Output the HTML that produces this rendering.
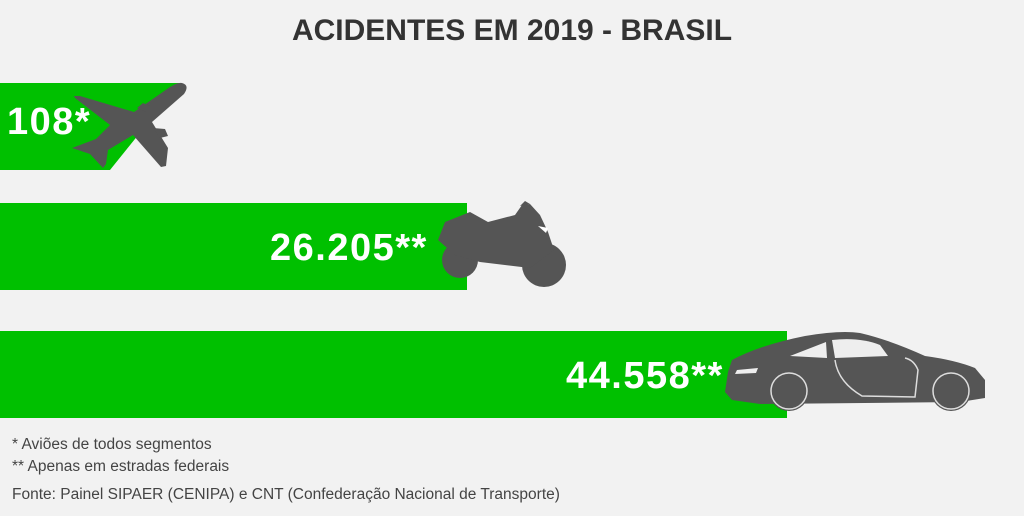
<!DOCTYPE html>
<html><head><meta charset="utf-8"><style>
body{margin:0;background:#f2f2f2;}
svg{display:block}
</style></head><body>
<svg width="1024" height="516" viewBox="0 0 1024 516" xmlns="http://www.w3.org/2000/svg">
<rect width="1024" height="516" fill="#f2f2f2"/>
<text x="512" y="40" text-anchor="middle" font-family="Liberation Sans, sans-serif" font-weight="bold" font-size="30" fill="#333">ACIDENTES EM 2019 - BRASIL</text>
<polygon points="0,83 180,83 110,170 0,170" fill="#00c000"/>
<rect x="0" y="203" width="467" height="87" fill="#00c000"/>
<rect x="0" y="331" width="787" height="87" fill="#00c000"/>
<g font-family="Liberation Sans, sans-serif" font-weight="bold" fill="#fff" letter-spacing="1.5">
<text x="7" y="134" font-size="38">108*</text>
<text x="270" y="260" font-size="38">26.205**</text>
<text x="566" y="388" font-size="38">44.558**</text>
</g>
<g fill="#555">
<path d="M182,83 Q190,85 184,94 L152,122 L168,148 L166,166 L161,167 L133,135 L108,150 L106,164 L103,168 L90,154 L72,148 L96,139 L110,125 L75,98 L74,96 L80,96 L134,112 L170,87 Q178,82 182,83Z"/>
<path d="M137,108 L143,103 L150,106 L146,112Z"/>
<path d="M153,128 L165,129 L168,136 L160,138Z"/>
</g>
<g fill="#555">
<circle cx="544" cy="265" r="22"/>
<circle cx="460" cy="260" r="18"/>
<path d="M445,222 L470,212 L488,222 L515,215 L522,205 L530,204 L540,215 L548,232 L554,250 L530,268 L480,262 L455,255 L438,240Z"/>
<path d="M520,206 L525,201 L530,204Z"/>
</g>
<path d="M538,226 L548,228 L546,233Z" fill="#fff"/>
<g fill="#555">
<path d="M728,372 L732,360 Q760,345 805,336 Q840,330 860,333 Q890,340 925,356 Q955,360 975,368 L985,380 L985,398 L960,402 L760,404 L732,400 L725,392Z"/>
<circle cx="789" cy="391" r="20"/>
<circle cx="951" cy="391" r="20"/>
</g>
<g fill="none" stroke="#ddd" stroke-width="1.5">
<circle cx="789" cy="391" r="18"/>
<circle cx="951" cy="391" r="18"/>
<path d="M835,360 Q838,382 862,396 L915,397 L918,370 Q914,360 905,358"/>
</g>
<g fill="#eee">
<path d="M790,356 L826,342 L827,358Z"/>
<path d="M832,340 Q860,337 880,345 L888,356 L835,358Z"/>
<path d="M737,370 L758,368 L756,373 L735,374Z"/>
</g>
<g font-family="Liberation Sans, sans-serif" font-size="15.5" fill="#444">
<text x="12" y="449">* Aviões de todos segmentos</text>
<text x="12" y="471">** Apenas em estradas federais</text>
<text x="12" y="499">Fonte: Painel SIPAER (CENIPA) e CNT (Confederação Nacional de Transporte)</text>
</g>
</svg>
</body></html>
